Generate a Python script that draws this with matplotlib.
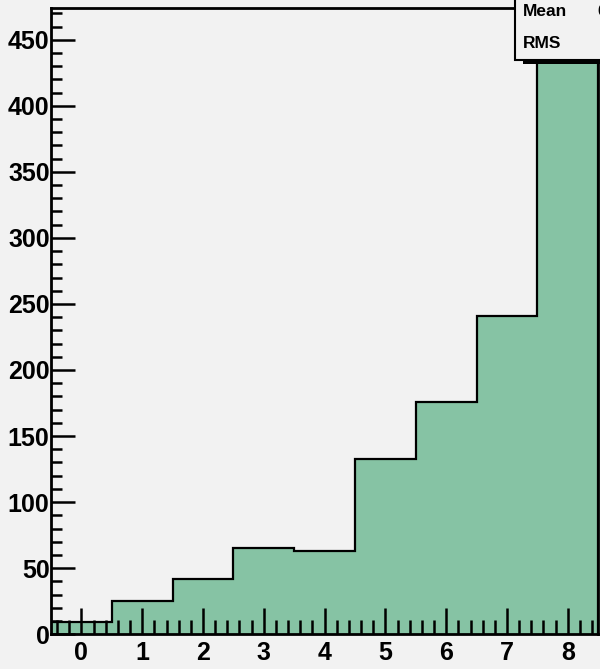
import numpy as np
import matplotlib.pyplot as plt
from matplotlib.patches import Rectangle
from matplotlib.ticker import MultipleLocator

plt.rcParams['font.family'] = ['Liberation Sans', 'DejaVu Sans']
plt.rcParams['font.weight'] = 'bold'

# bin contents, one bin per integer from 0 to 8
bin_centers = [0, 1, 2, 3, 4, 5, 6, 7, 8]
counts = [9, 25, 42, 65, 63, 133, 176, 241, 451]
edges = np.append(np.array(bin_centers) - 0.5, bin_centers[-1] + 0.5)

bg = '#f2f2f2'
fig = plt.figure(figsize=(6.0, 6.69), dpi=100, facecolor=bg)
ax = fig.add_axes([0.085, 0.052, 0.912, 0.936], facecolor=bg)

ax.stairs(counts, edges, fill=True, color='#86c3a4', zorder=1)
ax.stairs(counts, edges, color='black', linewidth=1.6, zorder=2)

ax.set_xlim(edges[0], edges[-1])
ax.set_ylim(0, 474)

ax.xaxis.set_major_locator(MultipleLocator(1))
ax.xaxis.set_minor_locator(MultipleLocator(0.2))
ax.yaxis.set_major_locator(MultipleLocator(50))
ax.yaxis.set_minor_locator(MultipleLocator(10))
ax.tick_params(axis='both', which='both', direction='in', width=1.8,
               color='black', labelsize=18, zorder=5)
ax.tick_params(axis='x', which='major', length=19, pad=5)
ax.tick_params(axis='x', which='minor', length=10)
ax.tick_params(axis='y', which='major', length=17, pad=1)
ax.tick_params(axis='y', which='minor', length=8)
for lab in ax.get_xticklabels() + ax.get_yticklabels():
    lab.set_fontweight('bold')
for s in ax.spines.values():
    s.set_linewidth(2)
    s.set_zorder(6)

# statistics box, partly outside the canvas
fig.patches.append(Rectangle((523 / 600, 1 - 64 / 669), 0.2, 0.2,
                             transform=fig.transFigure, facecolor='black',
                             edgecolor='none', zorder=10))
fig.patches.append(Rectangle((515 / 600, 1 - 60 / 669), 0.2, 0.2,
                             transform=fig.transFigure, facecolor=bg,
                             edgecolor='black', linewidth=1.5, zorder=11))
fig.text(523 / 600, 1 - 11 / 669, 'Mean', fontsize=12.5, fontweight='bold',
         va='center', ha='left', zorder=12)
fig.text(597 / 600, 1 - 11 / 669, '6.284', fontsize=12.5, fontweight='bold',
         va='center', ha='left', zorder=12)
fig.text(523 / 600, 1 - 43 / 669, 'RMS', fontsize=12.5, fontweight='bold',
         va='center', ha='left', zorder=12)

plt.savefig('out.png', dpi=100, facecolor=bg)
